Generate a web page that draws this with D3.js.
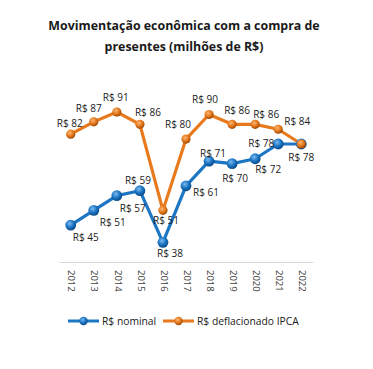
<!DOCTYPE html>
<html><head><meta charset="utf-8">
<script src="https://cdn.jsdelivr.net/npm/d3@7/dist/d3.min.js"></script>
<style>body{margin:0;background:#fff;} svg{display:block;}</style>
</head><body>
<svg id="c" width="373" height="369"></svg>
<script>
const years = ["2012","2013","2014","2015","2016","2017","2018","2019","2020","2021","2022"];
const nominal = [45,51,57,59,38,61,71,70,72,78,78];
const deflacionado = [82,87,91,86,51,80,90,86,86,84,78];
const seriesNames = ["R$ nominal","R$ deflacionado IPCA"];
const title = ["Movimentação econômica com a compra de","presentes (milhões de R$)"];

// layout (label offsets from each point, in px) — styling only
const nomLabelOff = [[15,12],[19,12],[16,13],[-2,-10],[7,11],[20,7],[4,-8],[3,15],[13,11],[-17,0],[0,14]];
const defLabelOff = [[-1,-11],[-5,-13],[-1,-15],[8,-12],[3,10],[-8,-15],[-4,-15],[5,-14],[11,-10],[19,-8],null];
const colors = ["#1c76c4","#e8791c"];

const svg = d3.select("#c");
const font = "Open Sans, Liberation Sans, sans-serif";

const x = d3.scaleBand().domain(years).range([59.2, 312.8]);
const y = d3.scaleLinear().domain([30, 100]).range([262, 89.9]);
const cx = i => x(years[i]) + x.bandwidth()/2;

// title
svg.append("g").selectAll("text").data(title).join("text")
  .attr("x", 184).attr("y", (d,i)=>29.5+i*21)
  .attr("text-anchor","middle").attr("font-family",font)
  .attr("font-weight","bold").attr("font-size",12.4).attr("fill","#1a1a1a")
  .text(d=>d);

// gradients
const defs = svg.append("defs");
const gradIds = ["gBlue","gOrange"];
const grads = [["#7dbbf0","#1c76c4","#0a4a86"],["#f7b878","#e8791c","#9c4a06"]];
gradIds.forEach((id,i)=>{
  const g = defs.append("radialGradient").attr("id",id).attr("cx","40%").attr("cy","35%").attr("r","65%");
  g.append("stop").attr("offset","0%").attr("stop-color",grads[i][0]);
  g.append("stop").attr("offset","55%").attr("stop-color",grads[i][1]);
  g.append("stop").attr("offset","100%").attr("stop-color",grads[i][2]);
});

// axis
const xAxis = d3.axisBottom(x).tickSize(0).tickPadding(0);
const ax = svg.append("g").attr("transform","translate(0,262)").call(xAxis);
ax.select(".domain").attr("stroke","#d9d9d9").attr("stroke-width",1);
ax.selectAll(".tick text")
  .attr("font-family",font).attr("font-size",9.5).attr("fill","#404040")
  .attr("text-anchor","start").attr("dy","0.35em")
  .attr("transform","translate(1,8) rotate(90)").attr("y",0).attr("x",0);

const line = d3.line().x((d,i)=>cx(i)).y(d=>y(d));
const all = [nominal, deflacionado];
[0,1].forEach(si=>{
  svg.append("path").datum(all[si]).attr("d",line)
    .attr("fill","none").attr("stroke",colors[si]).attr("stroke-width",3.2)
    .attr("stroke-linejoin","round");
});
[0,1].forEach(si=>{
  svg.append("g").selectAll("circle").data(all[si]).join("circle")
    .attr("cx",(d,i)=>cx(i)).attr("cy",d=>y(d))
    .attr("r", si===0?5.4:4.6).attr("fill",`url(#${gradIds[si]})`);
});

function labels(vals,offs){
  svg.append("g").selectAll("text").data(vals).join("text")
    .filter((d,i)=>offs[i]!==null)
    .attr("x",(d,i)=>cx(i)+offs[i][0])
    .attr("y",(d,i)=>y(d)+offs[i][1])
    .attr("dy","0.35em").attr("text-anchor","middle")
    .attr("font-family",font).attr("font-size",10).attr("font-weight",500).attr("fill","#1a1a1a")
    .text(d=>"R$ "+d);
}
labels(nominal, nomLabelOff);
labels(deflacionado, defLabelOff);

// legend
const leg = [{x:68,name:seriesNames[0]},{x:163,name:seriesNames[1]}];
leg.forEach((l,i)=>{
  const g = svg.append("g");
  g.append("line").attr("x1",l.x).attr("x2",l.x+31).attr("y1",321).attr("y2",321)
    .attr("stroke",colors[i]).attr("stroke-width",3);
  g.append("circle").attr("cx",l.x+15.5).attr("cy",321).attr("r",4.2).attr("fill",`url(#${gradIds[i]})`);
  g.append("text").attr("x",l.x+34).attr("y",321).attr("dy","0.35em")
    .attr("font-family",font).attr("font-size",10.3).attr("font-weight",500).attr("fill","#1a1a1a").text(l.name);
});
</script>
</body></html>
